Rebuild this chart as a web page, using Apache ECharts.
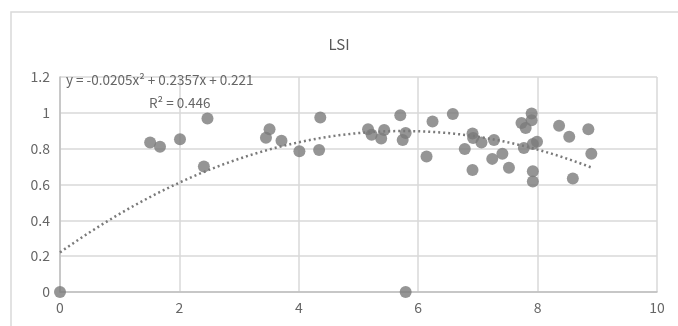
<!DOCTYPE html>
<html>
<head>
<meta charset="utf-8">
<script src="https://cdn.jsdelivr.net/npm/echarts@6/dist/echarts.min.js"></script>
<style>
  html, body { margin: 0; padding: 0; background: #fff; }
  #chart { width: 678px; height: 326px; }
</style>
</head>
<body>
<div id="chart"></div>
<script>
// LSI observations: x values and matching LSI values
const xValues = [
  0, 5.79,
  1.51, 1.675, 2.01, 2.47, 2.41,
  3.51, 3.45, 3.71, 4.01, 4.36, 4.34,
  5.16, 5.22, 5.38, 5.43, 5.70, 5.79, 5.74,
  6.14, 6.24, 6.58, 6.91, 6.92, 7.06, 6.78, 6.91,
  7.27, 7.24, 7.41, 7.52, 7.73, 7.80, 7.90, 7.90,
  7.77, 7.92, 7.99, 7.92, 7.92,
  8.36, 8.53, 8.85, 8.90, 8.59
];
const lsiValues = [
  0, 0,
  0.835, 0.811, 0.852, 0.968, 0.700,
  0.909, 0.861, 0.844, 0.785, 0.974, 0.793,
  0.909, 0.878, 0.857, 0.904, 0.987, 0.887, 0.848,
  0.756, 0.952, 0.993, 0.885, 0.859, 0.835, 0.798, 0.681,
  0.848, 0.743, 0.771, 0.693, 0.943, 0.915, 0.996, 0.959,
  0.804, 0.826, 0.839, 0.674, 0.617,
  0.928, 0.867, 0.909, 0.771, 0.633
];

// Polynomial trendline (order 2) coefficients and fit statistic
const trendA = -0.0205;
const trendB = 0.2357;
const trendC = 0.221;
const rSquared = 0.446;
const trendStart = 0;
const trendEnd = 8.9;

const xTicks = [0, 2, 4, 6, 8, 10];
const yTicks = [0, 0.2, 0.4, 0.6, 0.8, 1, 1.2];

const points = xValues.map((x, i) => [x, lsiValues[i]]);

const trendPoints = [];
const steps = 120;
for (let i = 0; i <= steps; i++) {
  const x = trendStart + (trendEnd - trendStart) * i / steps;
  trendPoints.push([x, trendA * x * x + trendB * x + trendC]);
}

const fmt = v => (v < 0 ? '-' : '') + Math.abs(v).toString();
const eqText = 'y = ' + fmt(trendA) + 'x² + ' + fmt(trendB) + 'x + ' + fmt(trendC);
const r2Text = 'R² = ' + rSquared;

const FONT = '"Noto Sans CJK SC", "Noto Sans", sans-serif';
const TEXT_COLOR = '#666666';

const chart = echarts.init(document.getElementById('chart'), null, { renderer: 'canvas' });
chart.setOption({
  animation: false,
  backgroundColor: '#ffffff',
  title: {
    text: 'LSI',
    left: 'center',
    top: 32,
    textStyle: { fontFamily: FONT, fontSize: 15, fontWeight: 'normal', color: '#595959' }
  },
  graphic: [
    {
      type: 'rect',
      shape: { x: 11, y: 12, width: 700, height: 400 },
      style: { fill: 'none', stroke: '#d9d9d9', lineWidth: 1.5 },
      z: 0
    },
    {
      type: 'text',
      left: 66,
      top: 73,
      style: { text: eqText, fontFamily: FONT, fontSize: 13.5, fill: TEXT_COLOR },
      z: 10
    },
    {
      type: 'text',
      left: 149,
      top: 96,
      style: { text: r2Text, fontFamily: FONT, fontSize: 13.5, fill: TEXT_COLOR },
      z: 10
    }
  ],
  grid: { left: 60, right: 21, top: 77, bottom: 34, containLabel: false },
  xAxis: {
    type: 'value',
    min: xTicks[0],
    max: xTicks[xTicks.length - 1],
    interval: 2,
    axisLine: { show: true, lineStyle: { color: '#bfbfbf', width: 1.5 } },
    axisTick: { show: false },
    axisLabel: { fontFamily: FONT, fontSize: 14, color: TEXT_COLOR, margin: 9 },
    splitLine: { show: true, lineStyle: { color: '#d9d9d9', width: 1.5 } }
  },
  yAxis: {
    type: 'value',
    min: yTicks[0],
    max: yTicks[yTicks.length - 1],
    interval: 0.2,
    axisLine: { show: true, lineStyle: { color: '#bfbfbf', width: 1.5 } },
    axisTick: { show: false },
    axisLabel: { fontFamily: FONT, fontSize: 14, color: TEXT_COLOR, margin: 10,
      formatter: v => String(Math.round(v * 10) / 10) },
    splitLine: { show: true, lineStyle: { color: '#d9d9d9', width: 1.5 } }
  },
  series: [
    {
      name: 'LSI',
      type: 'scatter',
      data: points,
      symbol: 'circle',
      symbolSize: 12,
      itemStyle: { color: '#7a7a7a' },
      z: 3
    },
    {
      name: 'trend',
      type: 'line',
      data: trendPoints,
      showSymbol: false,
      smooth: false,
      lineStyle: { color: '#7a7a7a', width: 2.5, type: [2, 3] },
      z: 4
    }
  ]
});
</script>
</body>
</html>
